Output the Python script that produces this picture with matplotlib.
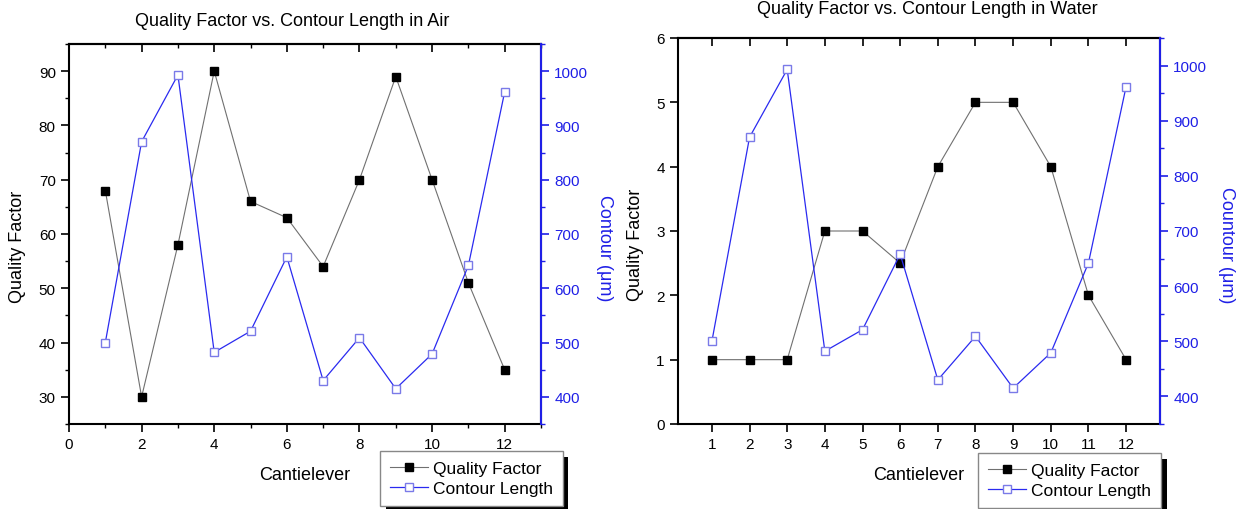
import numpy as np
import matplotlib
matplotlib.use('Agg')
import matplotlib.pyplot as plt
from matplotlib.patches import Rectangle
from matplotlib.ticker import MultipleLocator

plt.rcParams['font.family'] = ['Liberation Sans', 'DejaVu Sans']

# Data
cantilever = np.arange(1, 13)
q_air = [68, 30, 58, 90, 66, 63, 54, 70, 89, 70, 51, 35]
q_water = [1, 1, 1, 3, 3, 2.5, 4, 5, 5, 4, 2, 1]
contour = [500, 870, 993, 482, 521, 658, 430, 509, 415, 479, 642, 962]

BLUE = '#1f1fe6'
LINE_BLUE = '#2a2af0'
OPEN_BLUE = '#7a7ae8'
GRAY = '#707070'

fig = plt.figure(figsize=(12.39, 5.10), dpi=100)


def make_panel(rect, q, title, title_xy, xlim, ylim, ymaj, ymin, xmaj, xmin,
               rlabel, ylab_xy, rlab_xy, xlab_xy, leg_xy):
    ax = fig.add_axes(rect)
    ax.plot(cantilever, q, '-', color=GRAY, lw=0.8, marker='s', ms=6,
            mfc='black', mec='black', label='Quality Factor', zorder=3)
    ax.set_xlim(*xlim)
    ax.set_ylim(*ylim)
    ax.xaxis.set_major_locator(MultipleLocator(xmaj))
    if xmin:
        ax.xaxis.set_minor_locator(MultipleLocator(xmin))
    ax.yaxis.set_major_locator(MultipleLocator(ymaj))
    if ymin:
        ax.yaxis.set_minor_locator(MultipleLocator(ymin))
    ax.tick_params(axis='both', which='major', direction='out', length=6,
                   width=1.2, labelsize=11, colors='black')
    ax.tick_params(axis='both', which='minor', direction='out', length=3,
                   width=1.0)
    for s in ax.spines.values():
        s.set_linewidth(1.5)

    top = ax.secondary_xaxis('top')
    top.xaxis.set_major_locator(MultipleLocator(xmaj))
    if xmin:
        top.xaxis.set_minor_locator(MultipleLocator(xmin))
    top.tick_params(which='major', direction='in', length=6, width=1.2,
                    labeltop=False)
    top.tick_params(which='minor', direction='in', length=3, width=1.0)
    top.spines['top'].set_linewidth(1.5)

    ax2 = ax.twinx()
    ax2.plot(cantilever, contour, '-', color=LINE_BLUE, lw=0.9, marker='s',
             ms=5.5, mfc='white', mec=OPEN_BLUE, mew=1.0,
             label='Contour Length', zorder=3)
    ax2.set_ylim(350, 1050)
    ax2.yaxis.set_major_locator(MultipleLocator(100))
    ax2.yaxis.set_minor_locator(MultipleLocator(50))
    ax2.tick_params(axis='y', which='major', direction='out', length=6,
                    width=1.2, labelsize=11, colors=BLUE)
    ax2.tick_params(axis='y', which='minor', direction='out', length=3,
                    width=1.0, colors=BLUE)
    ax2.set_yticks([400, 500, 600, 700, 800, 900, 1000])
    ax2.spines['right'].set_color(BLUE)
    ax2.spines['right'].set_linewidth(1.5)
    for side in ['left', 'top', 'bottom']:
        ax2.spines[side].set_visible(False)

    ax.set_ylabel('Quality Factor', fontsize=13)
    ax.yaxis.set_label_coords(*ylab_xy)
    ax2.set_ylabel(rlabel, fontsize=13, color=BLUE, rotation=270,
                   va='center')
    ax2.yaxis.set_label_coords(*rlab_xy)
    ax.set_xlabel('Cantielever', fontsize=13)
    ax.xaxis.set_label_coords(*xlab_xy)

    fig.text(title_xy[0], title_xy[1], title, fontsize=13, ha='center',
             va='center')

    h1, l1 = ax.get_legend_handles_labels()
    h2, l2 = ax2.get_legend_handles_labels()
    leg = fig.legend(h1 + h2, l1 + l2, loc='upper left',
                     bbox_to_anchor=leg_xy, fontsize=12.5, frameon=True,
                     fancybox=False, edgecolor='#888888', framealpha=1,
                     borderpad=0.55, handlelength=2.2, handletextpad=0.3,
                     labelspacing=0.3, borderaxespad=0)
    leg.get_frame().set_linewidth(1.0)
    return leg


W, H = 1239, 510
legs = []
legs.append(make_panel([69 / W, 1 - 425 / H, 472 / W, 380 / H], q_air,
                       'Quality Factor vs. Contour Length in Air',
                       (292 / W, 1 - 22 / H), (0, 13), (25, 95), 10, 5, 2, 1,
                       'Contour (μm)', (-0.091, 0.468), (1.135, 0.466),
                       (0.5, -0.11), (380 / W, 1 - 452 / H)))
legs.append(make_panel([678 / W, 1 - 425 / H, 482 / W, 386 / H], q_water,
                       'Quality Factor vs. Contour Length in Water',
                       (927 / W, 1 - 10 / H), (0.1, 12.9), (0, 6), 1, None,
                       1, None, 'Countour (μm)', (-0.07, 0.466),
                       (1.137, 0.466), (0.5, -0.11), (978 / W, 1 - 454 / H)))

# black drop shadow behind each legend box
fig.canvas.draw()
for leg in legs:
    bb = leg.get_window_extent().transformed(fig.transFigure.inverted())
    dx, dy = 6 / W, 6 / H
    fig.patches.append(Rectangle((bb.x0 + dx, bb.y0 - dy), bb.width,
                                 bb.height, transform=fig.transFigure,
                                 facecolor='black', edgecolor='none',
                                 zorder=leg.get_zorder() - 0.5))

fig.savefig('out.png', dpi=100)
